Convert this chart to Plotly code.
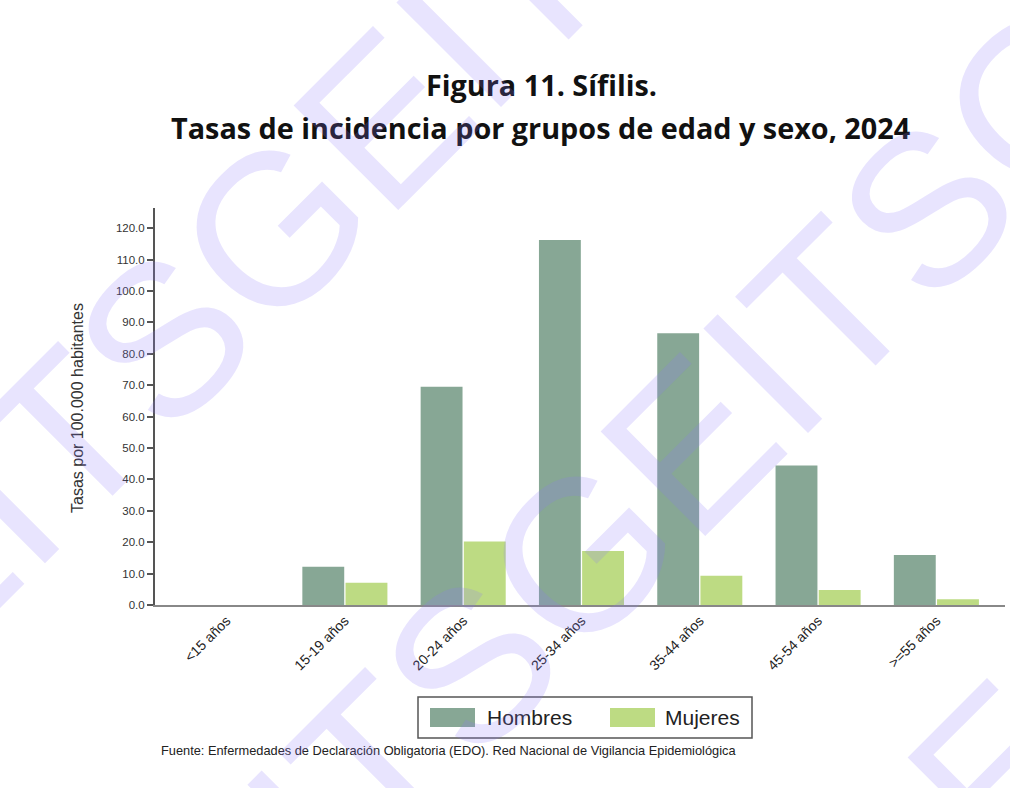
import plotly.graph_objects as go

# ---- data ----
categories = ["<15 años", "15-19 años", "20-24 años", "25-34 años",
              "35-44 años", "45-54 años", ">=55 años"]
hombres = [0.0, 12.2, 69.5, 116.2, 86.5, 44.4, 15.9]
mujeres = [0.0, 7.1, 20.2, 17.2, 9.3, 4.8, 1.8]
series_names = ["Hombres", "Mujeres"]
title_lines = ["Figura 11. Sífilis.",
               "Tasas de incidencia por grupos de edad y sexo, 2024"]
y_title = "Tasas por 100.000 habitantes"
source_text = ("Fuente: Enfermedades de Declaración Obligatoria (EDO). "
               "Red Nacional de Vigilancia Epidemiológica")
watermark_word = "GEITS"

# ---- styling / layout ----
W, H = 1010, 788
L, R, T, B = 155, 5, 208, 183
PW, PH = W - L - R, H - T - B
col_h = "#87A795"
col_m = "#BDDB83"
FONT = "Arial, Liberation Sans, sans-serif"
TFONT = "Open Sans, Lato, sans-serif"


def px(x):
    return (x - L) / PW


def py(y):
    return (H - B - y) / PH


fig = go.Figure()
fig.add_trace(go.Bar(x=categories, y=hombres, name=series_names[0],
                     marker=dict(color=col_h, line=dict(width=0)),
                     showlegend=False))
fig.add_trace(go.Bar(x=categories, y=mujeres, name=series_names[1],
                     marker=dict(color=col_m, line=dict(width=0)),
                     showlegend=False))

annotations = []
# titles
annotations.append(dict(text="<b>%s</b>" % title_lines[0], x=px(541), y=py(84),
                        xref="paper", yref="paper", showarrow=False,
                        xanchor="center", yanchor="middle",
                        font=dict(family=TFONT, size=28.8, color="#111")))
annotations.append(dict(text="<b>%s</b>" % title_lines[1], x=px(540), y=py(128),
                        xref="paper", yref="paper", showarrow=False,
                        xanchor="center", yanchor="middle",
                        font=dict(family=TFONT, size=28.8, color="#111")))
# y-axis title
annotations.append(dict(text=y_title, x=px(77), y=py(408), xref="paper", yref="paper",
                        showarrow=False, textangle=-90, xanchor="center", yanchor="middle",
                        font=dict(family=FONT, size=16, color="#333")))
# source
annotations.append(dict(text=source_text, x=px(159), y=py(750), xref="paper", yref="paper",
                        showarrow=False, xanchor="left", yanchor="middle",
                        font=dict(family=FONT, size=12.8, color="#222")))
# legend texts
annotations.append(dict(text=series_names[0], x=px(485), y=py(717), xref="paper", yref="paper",
                        showarrow=False, xanchor="left", yanchor="middle",
                        font=dict(family=FONT, size=21, color="#222")))
annotations.append(dict(text=series_names[1], x=px(663), y=py(717), xref="paper", yref="paper",
                        showarrow=False, xanchor="left", yanchor="middle",
                        font=dict(family=FONT, size=21, color="#222")))

# watermark rows (diagonal, semi-transparent, on top)
for cx, cy in [(442, 60), (749, 386), (1056, 712)]:
    annotations.append(dict(text=watermark_word * 3, x=px(cx), y=py(cy),
                            xref="paper", yref="paper", showarrow=False,
                            textangle=-45, xanchor="center", yanchor="middle",
                            font=dict(family=FONT, size=215,
                                      color="rgba(140,120,250,0.2)")))

shapes = [
    dict(type="rect", xref="paper", yref="paper", x0=px(418), x1=px(752),
         y0=py(738), y1=py(697), line=dict(color="#555", width=1.5),
         fillcolor="rgba(0,0,0,0)"),
    dict(type="rect", xref="paper", yref="paper", x0=px(430), x1=px(475),
         y0=py(727), y1=py(708), line=dict(width=0), fillcolor=col_h),
    dict(type="rect", xref="paper", yref="paper", x0=px(610), x1=px(655),
         y0=py(727), y1=py(708), line=dict(width=0), fillcolor=col_m),
]

fig.update_layout(
    width=W, height=H,
    margin=dict(l=L, r=R, t=T, b=B, pad=0),
    paper_bgcolor="white", plot_bgcolor="white",
    barmode="group", bargap=0.27, bargroupgap=0.03,
    annotations=annotations, shapes=shapes,
    font=dict(family=FONT, color="#222"),
)
fig.update_xaxes(range=[-0.605, 6.58], showline=True, linecolor="#888", linewidth=2,
                 ticks="", tickangle=-45, tickfont=dict(family=FONT, size=14, color="#222"),
                 showgrid=False, zeroline=False)
fig.update_yaxes(range=[0, 126.4], dtick=10, tick0=0, tickformat=".1f",
                 showline=True, linecolor="#555", linewidth=2,
                 ticks="outside", ticklen=6, tickwidth=1.5, tickcolor="#555",
                 tickfont=dict(family=FONT, size=11.5, color="#333"),
                 showgrid=False, zeroline=False)

fig.write_html("out.html", config={"displayModeBar": False},
               post_script="document.body.style.margin='0';document.body.style.overflow='hidden';")
